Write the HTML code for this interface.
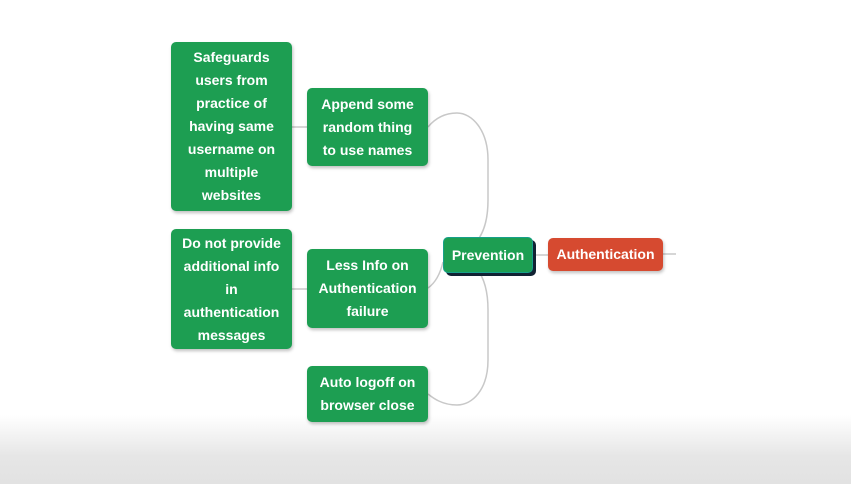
<!DOCTYPE html>
<html><head><style>
body{margin:0;width:851px;height:484px;overflow:hidden;background:#fff;font-family:"Liberation Sans",Arial,sans-serif;position:relative}
.bg{position:absolute;left:0;top:415px;width:851px;height:69px;background:linear-gradient(#fff,#e6e6e6 60%,#e2e2e2)}
.n{position:absolute;background:#1d9e52;color:#fff;font-weight:bold;font-size:14px;line-height:23px;text-align:center;border-radius:5px;display:flex;align-items:center;justify-content:center;box-shadow:1px 2px 3px rgba(0,0,0,.25)}
svg{position:absolute;left:0;top:0}
</style></head><body>
<div class="bg"></div>
<svg width="851" height="484"><g fill="none" stroke="#c8c8c8" stroke-width="1.5">
<path d="M443,255 C470,255 488,240 488,200 L488,160 C488,130 472,113 457,113 C442,113 433,121 428,127"/>
<path d="M443,255 C470,255 488,270 488,310 L488,360 C488,390 472,405 457,405 C442,405 433,398 428,394"/>
<path d="M443,262 C440,275 435,283 428,288"/>
<path d="M292,127 L307,127"/><path d="M292,289 L307,289"/>
<path d="M533,255 L548,255"/><path d="M663,254 L676,254"/>
</g></svg>
<div class="n" style="left:171px;top:42px;width:121px;height:169px">Safeguards<br>users from<br>practice of<br>having same<br>username on<br>multiple<br>websites</div>
<div class="n" style="left:307px;top:88px;width:121px;height:78px">Append some<br>random thing<br>to use names</div>
<div class="n" style="left:171px;top:229px;width:121px;height:120px">Do not provide<br>additional info<br>in<br>authentication<br>messages</div>
<div class="n" style="left:307px;top:249px;width:121px;height:79px">Less Info on<br>Authentication<br>failure</div>
<div class="n" style="left:307px;top:366px;width:121px;height:56px">Auto logoff on<br>browser close</div>
<div class="n" style="left:443px;top:237px;width:88px;height:34px;border:1px solid #17a08a;box-shadow:3px 3px 0 #123;">Prevention</div>
<div class="n" style="left:548px;top:238px;width:115px;height:33px;background:#d64a30">Authentication</div>
</body></html>
